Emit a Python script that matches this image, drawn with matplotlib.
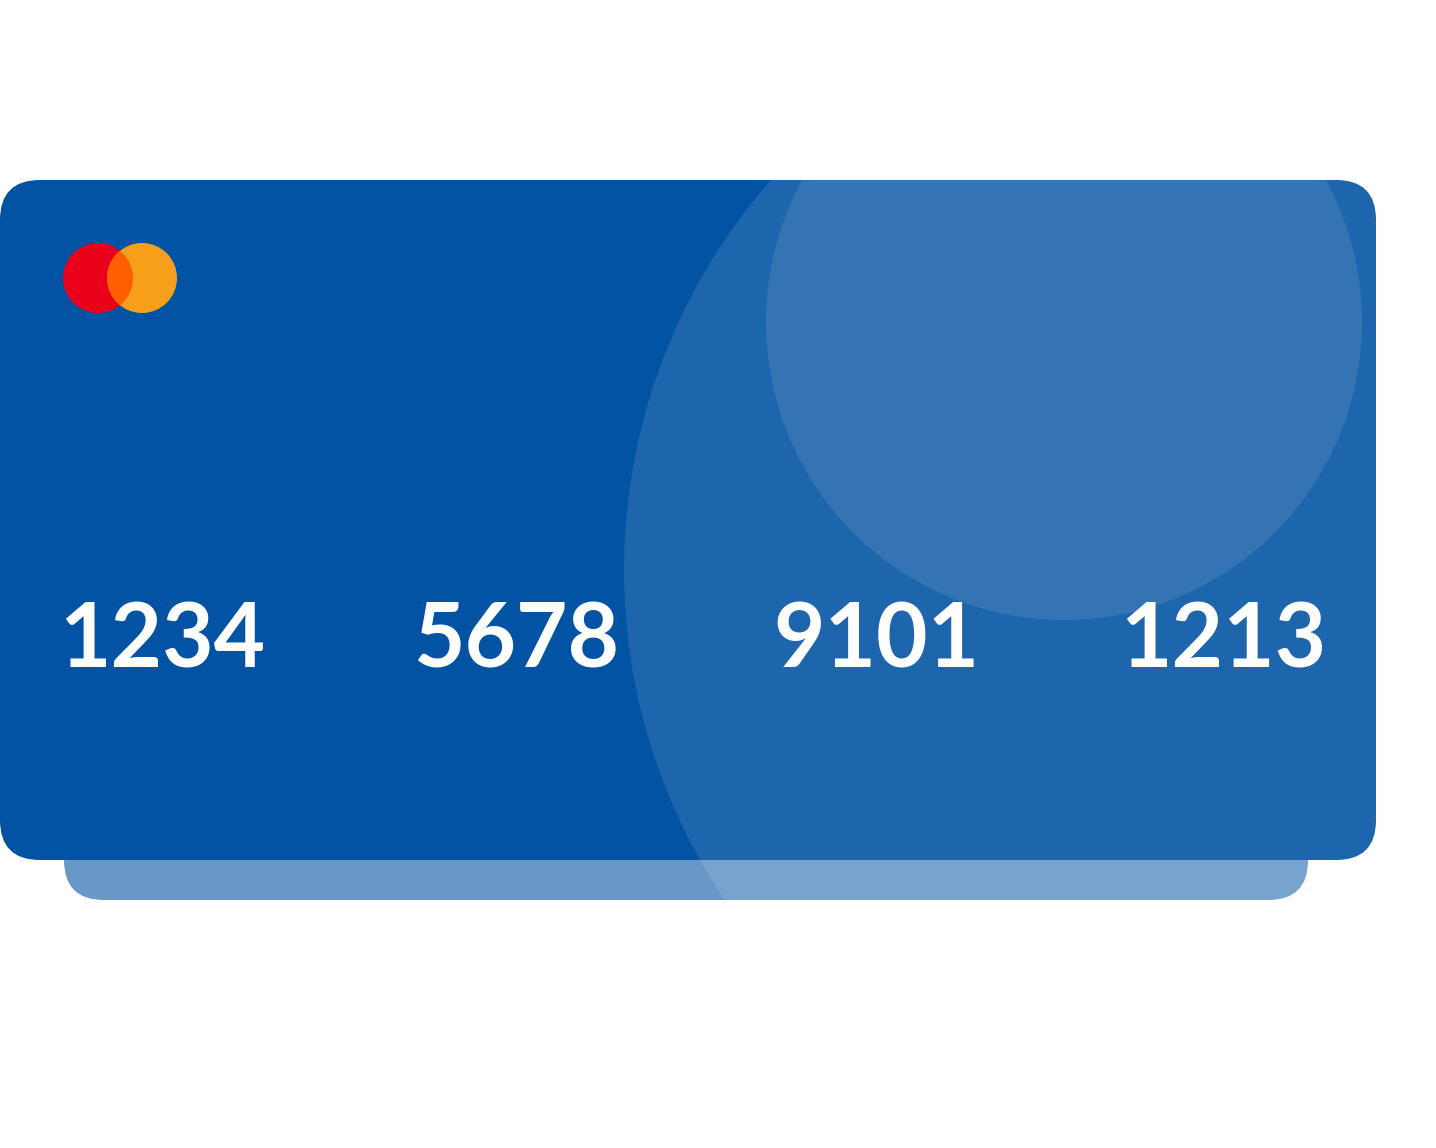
import matplotlib
matplotlib.use("Agg")
import matplotlib.pyplot as plt
from matplotlib.patches import FancyBboxPatch, Circle

# Data
card_groups = ["1234", "5678", "9101", "1213"]
group_x = [64, 418, 778, 1125]
logo_colors = ["#EB001B", "#F79E1B"]
overlap_color = "#FF5F00"
card_color = "#0353A4"

W, H = 1436, 1148
fig = plt.figure(figsize=(W / 100, H / 100), dpi=100)
ax = fig.add_axes([0, 0, 1, 1])
ax.set_xlim(0, W)
ax.set_ylim(H, 0)
ax.axis("off")

# bottom bar (shadow card)
bar = FancyBboxPatch((64 + 40, 820 + 40), 1244 - 80, 80 - 80,
                     boxstyle="round,pad=40", fc=card_color, alpha=0.6, ec="none", zorder=1)
ax.add_patch(bar)
big_bar = Circle((1215, 570), 591, fc="white", alpha=0.11, ec="none", zorder=2)
ax.add_patch(big_bar)
big_bar.set_clip_path(bar)

# main card
card = FancyBboxPatch((40, 220), 1376 - 80, 680 - 80,
                      boxstyle="round,pad=40", fc=card_color, ec="none", zorder=3)
ax.add_patch(card)
big = Circle((1215, 570), 591, fc="white", alpha=0.105, ec="none", zorder=4)
ax.add_patch(big)
big.set_clip_path(card)
small = Circle((1064, 322), 298, fc="white", alpha=0.1, ec="none", zorder=5)
ax.add_patch(small)
small.set_clip_path(card)

# logo
r = 35
c1 = Circle((98, 278), r, fc=logo_colors[0], ec="none", zorder=6)
c2 = Circle((142, 278), r, fc=logo_colors[1], ec="none", zorder=7)
ax.add_patch(c1)
ax.add_patch(c2)
ov = Circle((142, 278), r, fc=overlap_color, ec="none", zorder=8)
ax.add_patch(ov)
ov.set_clip_path(c1)

for txt, x in zip(card_groups, group_x):
    ax.text(x - 5, 668, txt, color="white", fontsize=64, fontweight="bold",
            family=["Lato", "DejaVu Sans"], ha="left", va="baseline", zorder=10)

fig.savefig("out.png", dpi=100)
